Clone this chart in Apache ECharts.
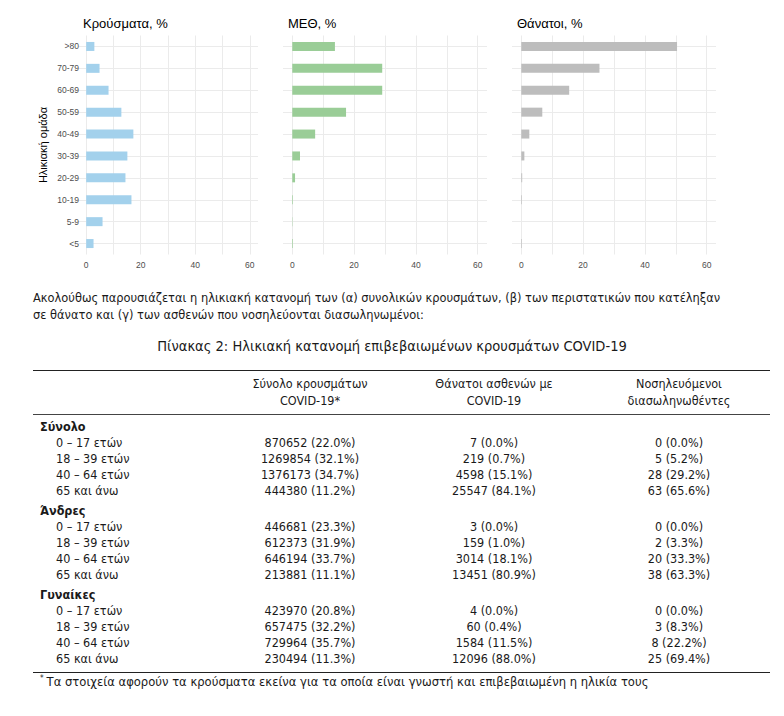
<!DOCTYPE html>
<html>
<head>
<meta charset="utf-8">
<script src="https://cdn.jsdelivr.net/npm/echarts@6/dist/echarts.min.js"></script>
<style>
  html, body { margin: 0; padding: 0; background: #fff; }
  #page { position: relative; width: 784px; height: 716px; overflow: hidden; }
  #chart { position: absolute; left: 0; top: 0; width: 784px; height: 280px; }
  .doc { font-family: "Liberation Sans Narrow", "DejaVu Sans Condensed", "Open Sans", sans-serif; color: #1a1a1a; }
  #para { position: absolute; left: 33px; top: 289px; font-size: 12.5px; line-height: 17px; width: 750px; }
  #para span { display: inline-block; white-space: nowrap; }
  #caption { position: absolute; left: 0; top: 337px; width: 784px; text-align: center; font-size: 14.5px; line-height: 18px; }
  #caption span { white-space: nowrap; }
  #table { position: absolute; left: 33px; top: 370px; width: 737px; font-size: 12.5px; }
  .row { display: flex; height: 16px; line-height: 16px; }
  .c0 { width: 187px; box-sizing: border-box; }
  .c1 { width: 180px; text-align: center; }
  .c2 { width: 188px; text-align: center; }
  .c3 { width: 182px; text-align: center; }
  .head { border-top: 1.5px solid #222; border-bottom: 1px solid #444; height: auto; padding: 4px 0 5px 0; line-height: 17px; }
  .grp { height: 20px; line-height: 16px; padding-top: 4px; box-sizing: border-box; font-weight: bold; }
  .grp .c0 { padding-left: 7px; }
  .dat .c0 { padding-left: 23px; }
  .last { border-bottom: 1.5px solid #222; height: 22px; padding-bottom: 6px; box-sizing: border-box; }
  #foot { position: absolute; left: 40px; top: 671px; font-size: 12.5px; line-height: 16px; white-space: nowrap; }
  #foot span { white-space: nowrap; }
  #foot sup { font-size: 8px; vertical-align: 5px; margin-right: 3px; }
</style>
</head>
<body>
<div id="page">
  <div id="chart"></div>
  <div id="para" class="doc"></div>
  <div id="caption" class="doc"></div>
  <div id="table" class="doc"></div>
  <div id="foot" class="doc"></div>
</div>
<script>
// ---- chart data ----
const ageGroups = ['<5', '5-9', '10-19', '20-29', '30-39', '40-49', '50-59', '60-69', '70-79', '>80'];
const casesPct  = [2.7, 6.0, 16.6, 14.4, 15.1, 17.3, 12.9, 8.2, 4.9, 3.0];
const icuPct    = [0.2, 0.1, 0.2, 0.9, 2.5, 7.4, 17.4, 29.1, 29.1, 13.8];
const deathsPct = [0.2, 0.0, 0.2, 0.3, 1.0, 2.6, 6.8, 15.5, 25.3, 50.4];
const panelTitles = ['Κρούσματα, %', 'ΜΕΘ, %', 'Θάνατοι, %'];
const xTickLabels = [0, 20, 40, 60];
const xGridValues = [0, 10, 20, 30, 40, 50, 60];
const yAxisTitle = 'Ηλικιακή ομάδα';

// ---- text / table data ----
const paragraphLines = [
  'Ακολούθως παρουσιάζεται η ηλικιακή κατανομή των (α) συνολικών κρουσμάτων, (β) των περιστατικών που κατέληξαν',
  'σε θάνατο και (γ) των ασθενών που νοσηλεύονται διασωληνωμένοι:'
];
const captionText = 'Πίνακας 2: Ηλικιακή κατανομή επιβεβαιωμένων κρουσμάτων COVID-19';
const colHeaders = ['Σύνολο κρουσμάτων<br>COVID-19*', 'Θάνατοι ασθενών με<br>COVID-19', 'Νοσηλευόμενοι<br>διασωληνωθέντες'];
const tableGroups = ['Σύνολο', 'Άνδρες', 'Γυναίκες'];
const tableAgeLabels = ['0 – 17 ετών', '18 – 39 ετών', '40 – 64 ετών', '65 και άνω'];
const casesAll = [870652, 1269854, 1376173, 444380];
const casesAllPct = [22.0, 32.1, 34.7, 11.2];
const deathsAll = [7, 219, 4598, 25547];
const deathsAllPct = [0.0, 0.7, 15.1, 84.1];
const intubAll = [0, 5, 28, 63];
const intubAllPct = [0.0, 5.2, 29.2, 65.6];
const casesMen = [446681, 612373, 646194, 213881];
const casesMenPct = [23.3, 31.9, 33.7, 11.1];
const deathsMen = [3, 159, 3014, 13451];
const deathsMenPct = [0.0, 1.0, 18.1, 80.9];
const intubMen = [0, 2, 20, 38];
const intubMenPct = [0.0, 3.3, 33.3, 63.3];
const casesWomen = [423970, 657475, 729964, 230494];
const casesWomenPct = [20.8, 32.2, 35.7, 11.3];
const deathsWomen = [4, 60, 1584, 12096];
const deathsWomenPct = [0.0, 0.4, 11.5, 88.0];
const intubWomen = [0, 3, 8, 25];
const intubWomenPct = [0.0, 8.3, 22.2, 69.4];
const footnoteText = 'Τα στοιχεία αφορούν τα κρούσματα εκείνα για τα οποία είναι γνωστή και επιβεβαιωμένη η ηλικία τους';

// ---- chart ----
const seriesData = [casesPct, icuPct, deathsPct];
const colors = ['#a3d1ec', '#9acd97', '#bdbdbd'];
const grids = [
  { left: 78, width: 180 },
  { left: 283, width: 204 },
  { left: 512, width: 204 }
];
const gridTop = 35.5, gridHeight = 219;
const font = '"Liberation Sans", Arial, sans-serif';

const chart = echarts.init(document.getElementById('chart'), null, { renderer: 'svg' });
const option = {
  animation: false,
  backgroundColor: '#fff',
  title: panelTitles.map((t, i) => ({
    text: t, left: grids[i].left, top: 12,
    textStyle: { fontSize: 13, fontWeight: 'normal', color: '#000', fontFamily: font }
  })),
  grid: grids.map(g => ({ left: g.left, width: g.width, top: gridTop, height: gridHeight, containLabel: false })),
  xAxis: grids.map((g, i) => ({
    type: 'value', gridIndex: i, min: -3, max: 63,
    axisLine: { show: false },
    axisTick: { show: false, customValues: xGridValues },
    axisLabel: { customValues: xTickLabels, color: '#4d4d4d', fontSize: 8.5, margin: 6, fontFamily: font },
    splitLine: { show: true, lineStyle: { color: '#ebebeb', width: 1 } }
  })),
  yAxis: grids.map((g, i) => ({
    type: 'category', gridIndex: i, data: ageGroups,
    axisLine: { show: false, onZero: false },
    axisTick: { show: true, alignWithLabel: true, inside: true, length: g.width, lineStyle: { color: '#ebebeb', width: 1 } },
    axisLabel: { show: i === 0, color: '#4d4d4d', fontSize: 8.5, margin: -1, fontFamily: font },
    splitLine: { show: false },
    name: i === 0 ? yAxisTitle : '',
    nameLocation: 'middle', nameRotate: 90, nameGap: 30,
    nameTextStyle: { color: '#000', fontSize: 11, fontFamily: font }
  })),
  series: seriesData.map((d, i) => ({
    type: 'bar', xAxisIndex: i, yAxisIndex: i, data: d,
    barWidth: 9, itemStyle: { color: colors[i] }, z: 3
  }))
};
chart.setOption(option);

// ---- text & table ----
const para = document.getElementById('para');
para.innerHTML = paragraphLines.map(l => '<span>' + l + '</span>').join('<br>');
document.getElementById('caption').innerHTML = '<span>' + captionText + '</span>';
document.getElementById('foot').innerHTML = '<span><sup>*</sup>' + footnoteText + '</span>';

// fit text blocks to the widths they occupy in the reference layout
function fitFont(container, span, targetWidth) {
  const w = span.getBoundingClientRect().width;
  const fs = parseFloat(getComputedStyle(container).fontSize);
  if (w > 0) container.style.fontSize = (fs * targetWidth / w) + 'px';
}
fitFont(para, para.querySelector('span'), 688);
const cap = document.getElementById('caption');
fitFont(cap, cap.querySelector('span'), 470);
const foot = document.getElementById('foot');
fitFont(foot, foot.querySelector('span'), 609);

const fmt = (n, p) => n + ' (' + p.toFixed(1) + '%)';
const groupData = [
  [casesAll, casesAllPct, deathsAll, deathsAllPct, intubAll, intubAllPct],
  [casesMen, casesMenPct, deathsMen, deathsMenPct, intubMen, intubMenPct],
  [casesWomen, casesWomenPct, deathsWomen, deathsWomenPct, intubWomen, intubWomenPct]
];
let html = '<div class="row head"><div class="c0"></div>' +
  colHeaders.map((h, i) => '<div class="c' + (i + 1) + '">' + h + '</div>').join('') + '</div>';
tableGroups.forEach((g, gi) => {
  html += '<div class="row grp"><div class="c0">' + g + '</div></div>';
  const d = groupData[gi];
  tableAgeLabels.forEach((a, ri) => {
    const isLast = gi === tableGroups.length - 1 && ri === tableAgeLabels.length - 1;
    html += '<div class="row dat' + (isLast ? ' last' : '') + '"><div class="c0">' + a + '</div>' +
      '<div class="c1">' + fmt(d[0][ri], d[1][ri]) + '</div>' +
      '<div class="c2">' + fmt(d[2][ri], d[3][ri]) + '</div>' +
      '<div class="c3">' + fmt(d[4][ri], d[5][ri]) + '</div></div>';
  });
});
document.getElementById('table').innerHTML = html;
</script>
</body>
</html>
